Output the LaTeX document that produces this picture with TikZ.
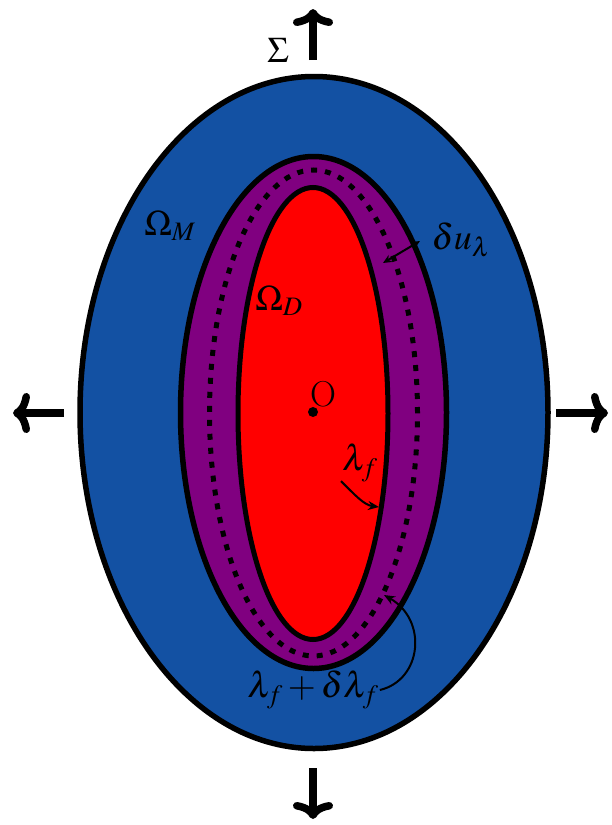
\documentclass[tikz,border=0pt]{standalone}
\usepackage{mathptmx}
\usepackage{tikz}
\usetikzlibrary{arrows.meta}
\definecolor{matrixblue}{RGB}{19, 81, 163}
\definecolor{zonepurple}{RGB}{128, 0, 128}
\definecolor{fluidred}{RGB}{255, 0, 0}

\begin{document}
\begin{tikzpicture}[x=1pt, y=-1pt, every node/.style={font=\fontsize{36}{40}\selectfont, inner sep=1pt}]
        \useasboundingbox (0,0) rectangle (611,825);
        \filldraw[fill=matrixblue, draw=black, line width=5.5pt] (314,412.5) ellipse (234pt and 336pt);
        \filldraw[fill=zonepurple, draw=black, line width=5.5pt] (313.5,412.5) ellipse (133pt and 256pt);
        \draw[black, line width=5pt, dash pattern=on 6pt off 8pt] (313.5,413) ellipse (104pt and 243pt);
        \filldraw[fill=fluidred, draw=black, line width=5pt] (313,413.5) ellipse (75pt and 226pt);
        \node[circle, fill=black, inner sep=0pt, minimum size=10pt] (o) at (313,412) {};
        \node (olabel) at (323,394) {O};
        \node (sigma) at (278,50) {\boldmath$\Sigma$};
        \node (omegam) at (170,226) {$\Omega_M$};
        \node (omegad) at (279,301) {$\Omega_D$};
        \node (dulam) at (461,240) {$\delta u_\lambda$};
        \node (lamf) at (360,463) {$\lambda_f$};
        \node (lamfd) at (313,690) {$\lambda_f+\delta\lambda_f$};
        \coordinate (topstart) at (313,60);
        \coordinate (topend) at (313,9);
        \coordinate (botstart) at (313,768);
        \coordinate (botend) at (313,819);
        \coordinate (leftstart) at (64,413);
        \coordinate (leftend) at (13,413);
        \coordinate (rightstart) at (556,413);
        \coordinate (rightend) at (608,413);
        \coordinate (duout) at (420,241);
        \coordinate (duin) at (383,263);
        \coordinate (lamfend) at (379,507);
        \coordinate (lamfdend) at (384,595);
        \draw[-{To[length=17pt, width=40pt, round]}, line width=7.5pt] (topstart) -- (topend);
        \draw[-{To[length=17pt, width=40pt, round]}, line width=7.5pt] (botstart) -- (botend);
        \draw[-{To[length=17pt, width=40pt, round]}, line width=7.5pt] (leftstart) -- (leftend);
        \draw[-{To[length=17pt, width=40pt, round]}, line width=7.5pt] (rightstart) -- (rightend);
        \draw[{Stealth[length=9pt, width=8pt]}-{Stealth[length=9pt, width=8pt]}, line width=2pt] (duin) -- (duout);
        \draw[-{Stealth[length=11pt, width=9pt]}, line width=2pt] (lamf.south west) ++(0,-2) .. controls (355,495) and (364,505) .. (lamfend);
        \draw[-{Stealth[length=11pt, width=9pt]}, line width=2pt] (lamfd.east) .. controls (422,680) and (428,620) .. (lamfdend);
      \end{tikzpicture}
\end{document}
